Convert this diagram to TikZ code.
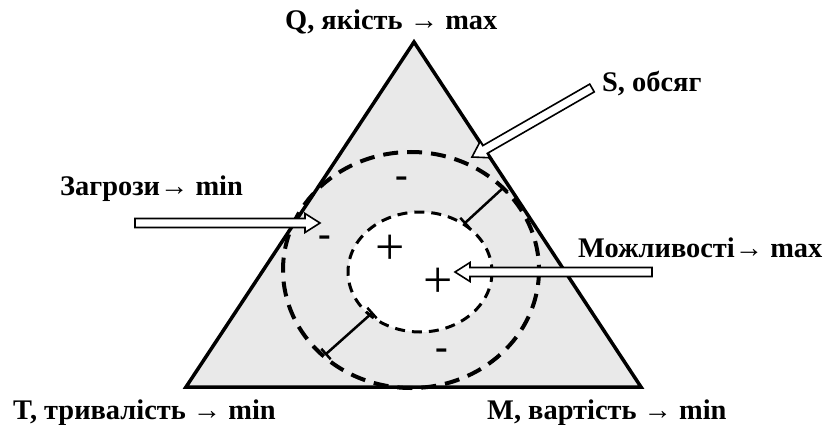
\documentclass[tikz,border=0pt]{standalone}
\usepackage{fontspec}
\setmainfont{Liberation Serif}
\usetikzlibrary{calc}
\newcommand\hollowarrow[2]{%
  \coordinate (hh) at ($(#2)!15pt!(#1)$);
  \draw[blk] ($(#1)!4.5pt!90:(#2)$) -- ($(hh)!4.5pt!90:(#2)$) -- ($(hh)!9.5pt!90:(#2)$) -- (#2)
    -- ($(hh)!9.5pt!-90:(#2)$) -- ($(hh)!4.5pt!-90:(#2)$) -- ($(#1)!4.5pt!-90:(#2)$) -- cycle;}
\newcommand\ibeam[2]{%
  \draw[brk] (#1) -- (#2);
  \draw[brk] ($(#1)!7pt!90:(#2)$) -- ($(#1)!7pt!-90:(#2)$);
  \draw[brk] ($(#2)!7pt!90:(#1)$) -- ($(#2)!7pt!-90:(#1)$);}
\begin{document}
\begin{tikzpicture}[x=1pt,y=-1pt,
  lbl/.style={font=\bfseries\fontsize{28.4}{32}\selectfont, anchor=base west, inner sep=0pt},
  blk/.style={draw=black, fill=white, line width=1.6pt, line join=miter},
  brk/.style={line width=2.5pt},
  plus/.style={font=\fontsize{52}{52}\selectfont, inner sep=0pt},
  minus/.style={font=\bfseries\fontsize{38}{38}\selectfont, inner sep=0pt, yshift=3pt}]
\useasboundingbox (0,0) rectangle (827,425);
\coordinate (TL) at (186,387);
\coordinate (TR) at (641,387);
\coordinate (TA) at (414,42);
\fill[gray!17] (TL) -- (TR) -- (TA) -- cycle;
\coordinate (oc) at (411,270);
\coordinate (ic) at (420,272);
\fill[white] (ic) ellipse [x radius=72, y radius=60];
\draw[line width=4pt, dash pattern=on 15pt off 9pt] (oc) ellipse [x radius=128, y radius=118];
\draw[line width=3pt, dash pattern=on 10pt off 7pt] (ic) ellipse [x radius=72, y radius=60];
\coordinate (b1a) at (465,223);
\coordinate (b1b) at (503,188);
\coordinate (b2a) at (372,313);
\coordinate (b2b) at (326,354);
\ibeam{b1a}{b1b}
\ibeam{b2a}{b2b}
\draw[line width=3.5pt, line join=miter] (TL) -- (TR) -- (TA) -- cycle;
\node[plus] (p1) at (390,250) {+};
\node[plus] (p2) at (438,283) {+};
\node[minus] (m1) at (402,185) {-};
\node[minus] (m2) at (325,244) {-};
\node[minus] (m3) at (442,357) {-};
\coordinate (sT) at (592,88);
\coordinate (sH) at (472,157);
\coordinate (zT) at (135,223);
\coordinate (zH) at (320,223);
\coordinate (mT) at (652,272);
\coordinate (mH) at (455,272);
\hollowarrow{sT}{sH}
\hollowarrow{zT}{zH}
\hollowarrow{mT}{mH}
\node[lbl] (q) at (285,30) {Q, якість → max};
\node[lbl] (s) at (602,92) {S, обсяг};
\node[lbl] (z) at (60,195) {Загрози→ min};
\node[lbl] (mo) at (578,257) {Можливості→ max};
\node[lbl] (t) at (13,419) {T, тривалість → min};
\node[lbl] (mv) at (487,419) {M, вартість → min};
\end{tikzpicture}
\end{document}
